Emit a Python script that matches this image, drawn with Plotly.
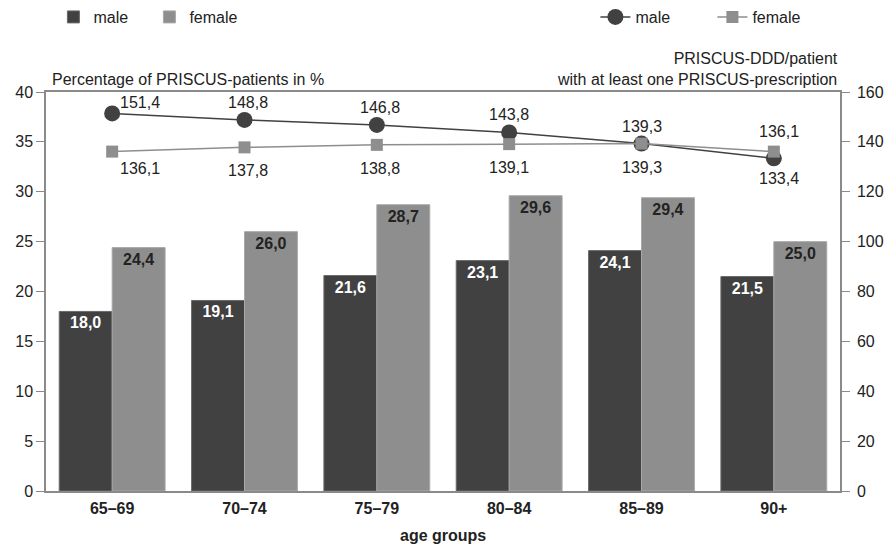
import plotly.graph_objects as go

# Age groups and values
age_groups = ["65–69", "70–74", "75–79", "80–84", "85–89", "90+"]
pct_male = [18.0, 19.1, 21.6, 23.1, 24.1, 21.5]
pct_female = [24.4, 26.0, 28.7, 29.6, 29.4, 25.0]
ddd_male = [151.4, 148.8, 146.8, 143.8, 139.3, 133.4]
ddd_female = [136.1, 137.8, 138.8, 139.1, 139.3, 136.1]

# Which side of the marker each line label sits on (+1 above, -1 below)
male_label_side = [1, 1, 1, 1, 1, -1]
female_label_side = [-1, -1, -1, -1, -1, 1]
label_xshift = [28, 3, 3, 0, 0, 5]
label_gap = [0, 7, 7, 7, 7, 7]

DARK = "#414141"
LIGHT = "#8e8e8e"
AXIS = "#8a8a8a"
FONT = "Liberation Sans, Arial, sans-serif"


def fmt(v):
    return f"{v:.1f}".replace(".", ",")


fig = go.Figure()

fig.add_trace(go.Bar(
    x=age_groups, y=pct_male, name="male",
    marker=dict(color=DARK, line=dict(color="#6a6a6a", width=1)),
    text=[fmt(v) for v in pct_male], textposition="inside",
    insidetextanchor="end",
    textfont=dict(color="white", size=16, family=FONT, weight="bold"),
    legend="legend", cliponaxis=False,
))
fig.add_trace(go.Bar(
    x=age_groups, y=pct_female, name="female",
    marker=dict(color=LIGHT, line=dict(color="#a8a8a8", width=1)),
    text=[fmt(v) for v in pct_female], textposition="inside",
    insidetextanchor="end",
    textfont=dict(color="#222222", size=16, family=FONT, weight="bold"),
    legend="legend", cliponaxis=False,
))

fig.add_trace(go.Scatter(
    x=age_groups, y=ddd_male, name="male", mode="lines+markers",
    line=dict(color=DARK, width=1.5),
    marker=dict(symbol="circle", size=16, color=DARK),
    yaxis="y2", legend="legend2", cliponaxis=False,
))
fig.add_trace(go.Scatter(
    x=age_groups, y=ddd_female, name="female", mode="lines+markers",
    line=dict(color=LIGHT, width=1.5),
    marker=dict(symbol="square", size=12, color=LIGHT),
    yaxis="y2", legend="legend2", cliponaxis=False,
))

annotations = []
for i, g in enumerate(age_groups):
    for vals, sides, extra in ((ddd_male, male_label_side, 0),
                               (ddd_female, female_label_side, 3)):
        s = sides[i]
        gap = label_gap[i] + extra if s > 0 else label_gap[i] + extra + 3
        annotations.append(dict(
            x=g, y=vals[i], xref="x", yref="y2", text=fmt(vals[i]),
            showarrow=False, xshift=label_xshift[i], yshift=gap * s,
            yanchor="bottom" if s > 0 else "top",
            font=dict(size=16, color="#222222", family=FONT),
        ))

annotations += [
    dict(text="Percentage of PRISCUS-patients in %", xref="paper", yref="paper",
         x=0.005, y=1.005, xanchor="left", yanchor="bottom", showarrow=False,
         font=dict(size=16, color="#222222", family=FONT)),
    dict(text="PRISCUS-DDD/patient<br>with at least one PRISCUS-prescription",
         xref="paper", yref="paper", x=1.0, y=1.005, xanchor="right",
         yanchor="bottom", align="right", showarrow=False,
         font=dict(size=16, color="#222222", family=FONT)),
    dict(text="<b>age groups</b>", xref="paper", yref="paper",
         x=0.5, y=-0.085, xanchor="center", yanchor="top", showarrow=False,
         font=dict(size=16, color="#222222", family=FONT)),
]

fig.update_layout(
    width=890, height=548,
    margin=dict(l=46, r=50, t=92, b=57),
    paper_bgcolor="white", plot_bgcolor="white",
    font=dict(family=FONT, size=16, color="#222222"),
    barmode="group", bargap=0.2, bargroupgap=0,
    annotations=annotations,
    xaxis=dict(
        showline=True, mirror=True, linecolor=AXIS, linewidth=1.5,
        ticks="", showgrid=False, ticklabelstandoff=2, automargin=False,
        tickfont=dict(size=16, family=FONT, weight="bold"),
    ),
    yaxis=dict(
        range=[0, 40], dtick=5, showline=True, linecolor=AXIS, linewidth=1.5,
        ticks="outside", ticklen=8, tickcolor=AXIS, showgrid=False,
        zeroline=False, tickfont=dict(size=16), automargin=False,
    ),
    yaxis2=dict(
        range=[0, 160], dtick=20, overlaying="y", side="right",
        showline=True, linecolor=AXIS, linewidth=1.5,
        ticks="outside", ticklen=8, tickcolor=AXIS, showgrid=False,
        zeroline=False, tickfont=dict(size=16), ticklabelstandoff=4,
        automargin=False,
    ),
    legend=dict(
        orientation="h", x=0.06, y=1.0, xref="container", yref="container",
        xanchor="left", yanchor="top", font=dict(size=16),
        itemwidth=30, entrywidth=51, bgcolor="rgba(0,0,0,0)",
    ),
    legend2=dict(
        orientation="h", x=0.669, y=1.0, xref="container", yref="container",
        xanchor="left", yanchor="top", font=dict(size=16),
        itemwidth=30, entrywidth=72, bgcolor="rgba(0,0,0,0)",
    ),
)

fig.write_html("out.html")
